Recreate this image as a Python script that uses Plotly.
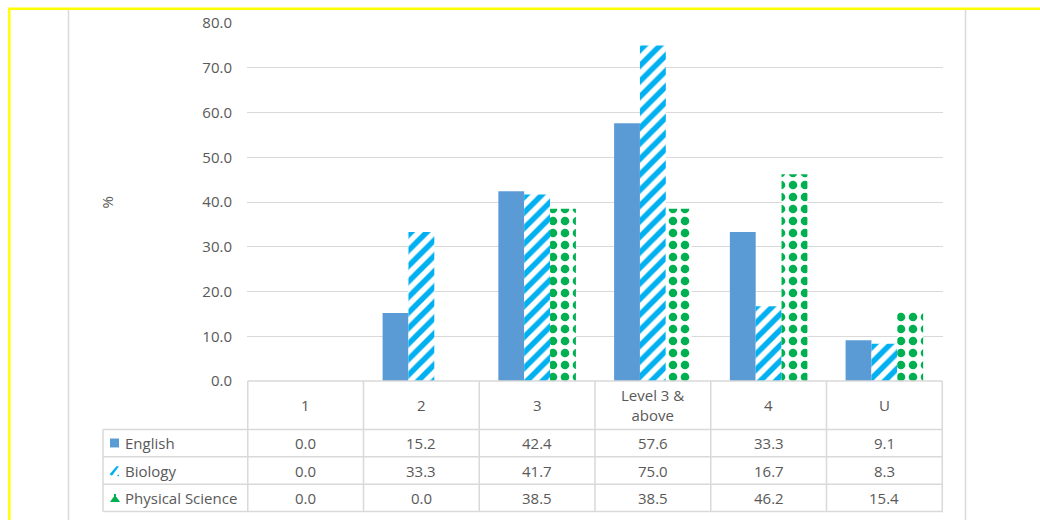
import plotly.graph_objects as go

# ---- data -------------------------------------------------------------
categories = ["1", "2", "3", "Level 3 & above", "4", "U"]
header_labels = ["1", "2", "3", "Level 3 &<br>above", "4", "U"]
english = [0.0, 15.2, 42.4, 57.6, 33.3, 9.1]
biology = [0.0, 33.3, 41.7, 75.0, 16.7, 8.3]
physical_science = [0.0, 0.0, 38.5, 38.5, 46.2, 15.4]
y_ticks = [0, 10, 20, 30, 40, 50, 60, 70, 80]

# ---- geometry (pixels on a 1040x520 canvas) ---------------------------
W, H = 1040, 520
PL, PR, PT, PB = 247, 943, 20, 381
PW, PH = PR - PL, PB - PT


def fx(px):
    return (px - PL) / PW


def fy(py):
    return (PB - py) / PH


GRID = "#D9D9D9"
TEXT = "#595959"
FONT = "Open Sans"
FS = 15

BLUE = "#5B9BD5"
CYAN = "#00B0F0"
GREEN = "#00B050"

fig = go.Figure()
fig.add_trace(go.Bar(
    x=categories, y=english, name="English",
    marker=dict(color=BLUE, line=dict(width=0)),
))
fig.add_trace(go.Bar(
    x=categories, y=biology, name="Biology",
    marker=dict(color=CYAN, line=dict(width=0),
                pattern=dict(shape="/", fgcolor=CYAN, bgcolor="white",
                             size=11, solidity=0.5, fillmode="replace")),
))
fig.add_trace(go.Bar(
    x=categories, y=physical_science, name="Physical Science",
    marker=dict(color=GREEN, line=dict(width=0),
                pattern=dict(shape=".", fgcolor=GREEN, bgcolor="white",
                             size=12, solidity=0.4, fillmode="replace")),
))

shapes = []
annotations = []

# outer frame lines
shapes.append(dict(type="line", xref="paper", yref="paper",
                   x0=fx(8), x1=fx(W + 5), y0=fy(5.7), y1=fy(5.7),
                   line=dict(color="#FFFF00", width=2.5)))
shapes.append(dict(type="line", xref="paper", yref="paper",
                   x0=fx(9.3), x1=fx(9.3), y0=fy(5), y1=fy(H + 5),
                   line=dict(color="#FFFF00", width=2.5)))
for vx in (68.5, 965.5):
    shapes.append(dict(type="line", xref="paper", yref="paper",
                       x0=fx(vx), x1=fx(vx), y0=fy(7), y1=fy(H + 5),
                       line=dict(color=GRID, width=1.5)))

# data table below the plot
row_lines = [381, 430, 457.5, 485, 512.5]
n = len(categories)
# horizontal rules
shapes.append(dict(type="line", xref="x", yref="paper",
                   x0=-0.5, x1=n - 0.5, y0=fy(row_lines[0]), y1=fy(row_lines[0]),
                   line=dict(color=GRID, width=1.5)))
for ry in row_lines[1:]:
    shapes.append(dict(type="line", xref="paper", yref="paper",
                       x0=fx(103), x1=fx(PR), y0=fy(ry), y1=fy(ry),
                       line=dict(color=GRID, width=1.5)))
# vertical rules
for i in range(n + 1):
    shapes.append(dict(type="line", xref="x", yref="paper",
                       x0=i - 0.5, x1=i - 0.5, y0=fy(row_lines[0]), y1=fy(row_lines[-1]),
                       line=dict(color=GRID, width=1.5)))
shapes.append(dict(type="line", xref="paper", yref="paper",
                   x0=fx(103), x1=fx(103), y0=fy(row_lines[1]), y1=fy(row_lines[-1]),
                   line=dict(color=GRID, width=1.5)))

# header cells
for i, lab in enumerate(header_labels):
    annotations.append(dict(xref="x", yref="paper", x=i,
                            y=fy((row_lines[0] + row_lines[1]) / 2),
                            text=lab, showarrow=False,
                            font=dict(family=FONT, size=FS, color=TEXT),
                            xanchor="center", yanchor="middle"))

# series rows
series = [("English", english), ("Biology", biology),
          ("Physical Science", physical_science)]
for r, (name, vals) in enumerate(series):
    cy = (row_lines[r + 1] + row_lines[r + 2]) / 2
    annotations.append(dict(xref="paper", yref="paper", x=fx(123), y=fy(cy),
                            text=name, showarrow=False,
                            font=dict(family=FONT, size=FS, color=TEXT),
                            xanchor="left", yanchor="middle"))
    for i, v in enumerate(vals):
        annotations.append(dict(xref="x", yref="paper", x=i, y=fy(cy),
                                text=f"{v:.1f}", showarrow=False,
                                font=dict(family=FONT, size=FS, color=TEXT),
                                xanchor="center", yanchor="middle"))


def path(points):
    return "M " + " L ".join(f"{fx(a)},{fy(b)}" for a, b in points) + " Z"


# legend keys inside the table
shapes.append(dict(type="rect", xref="paper", yref="paper",
                   x0=fx(110), x1=fx(119), y0=fy(448), y1=fy(439),
                   fillcolor=BLUE, line=dict(width=0)))
shapes.append(dict(type="path", xref="paper", yref="paper",
                   path=path([(109.5, 475), (116.5, 467), (119, 467), (112, 476.5)]),
                   fillcolor=CYAN, line=dict(width=0)))
shapes.append(dict(type="rect", xref="paper", yref="paper",
                   x0=fx(117.5), x1=fx(119), y0=fy(477), y1=fy(475.5),
                   fillcolor=CYAN, line=dict(width=0)))
shapes.append(dict(type="path", xref="paper", yref="paper",
                   path=path([(110, 503), (120, 503), (116.5, 498), (113.5, 498)]),
                   fillcolor=GREEN, line=dict(width=0)))
shapes.append(dict(type="rect", xref="paper", yref="paper",
                   x0=fx(114), x1=fx(116), y0=fy(498), y1=fy(495),
                   fillcolor=GREEN, line=dict(width=0)))

# y-axis title
annotations.append(dict(xref="paper", yref="paper", x=fx(107), y=fy(201),
                        text="%", showarrow=False, textangle=-90,
                        font=dict(family=FONT, size=FS, color=TEXT),
                        xanchor="center", yanchor="middle"))

fig.update_layout(
    width=W, height=H,
    margin=dict(l=PL, r=W - PR, t=PT, b=H - PB, pad=0),
    paper_bgcolor="white", plot_bgcolor="white",
    barmode="group", bargap=0.33, bargroupgap=0,
    showlegend=False,
    font=dict(family=FONT, size=FS, color=TEXT),
    shapes=shapes, annotations=annotations,
)
fig.update_xaxes(type="category", showticklabels=False, showgrid=False,
                 showline=False, zeroline=False, ticks="")
fig.update_yaxes(range=[0, 80], tickvals=y_ticks, tickformat=".1f",
                 showgrid=True, gridcolor=GRID, gridwidth=1,
                 zeroline=False, showline=False, ticks="",
                 ticklabelstandoff=14,
                 tickfont=dict(family=FONT, size=FS, color=TEXT))

fig.write_html("out.html")
